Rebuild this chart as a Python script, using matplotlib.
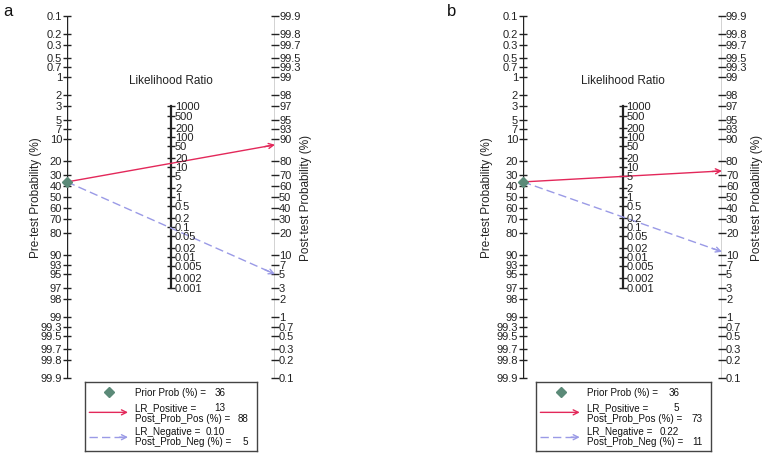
import numpy as np
import matplotlib
matplotlib.use("Agg")
import matplotlib.pyplot as plt

plt.rcParams["font.family"] = ["Liberation Sans", "DejaVu Sans"]

# data
PANELS = ["a", "b"]
PRIOR = [36, 36]
LR_POS = [13, 5]
POST_POS = [88, 73]
LR_NEG = [0.10, 0.22]
POST_NEG = [5, 11]
PROB_TICKS = [0.1, 0.2, 0.3, 0.5, 0.7, 1, 2, 3, 5, 7, 10, 20, 30, 40, 50, 60,
              70, 80, 90, 93, 95, 97, 98, 99, 99.3, 99.5, 99.7, 99.8, 99.9]
LR_TICKS = [1000, 500, 200, 100, 50, 20, 10, 5, 2, 1, 0.5, 0.2, 0.1, 0.05,
            0.02, 0.01, 0.005, 0.002, 0.001]

W, H = 767, 456
POS_COL = "#e3285a"
NEG_COL = "#9a9ae6"
DIA_COL = "#5b8a78"
AX_COL = "#222222"
LEG_FS = 7.1


def logit(p):
    return np.log(p / (1 - p))


def fmt(v):
    return f"{v:g}"


def draw_panel(fig, x_left, x_right, x_pre_lab, x_post_lab, leg_box, letter_xy,
               letter, prior, lr_pos, post_pos, lr_neg, post_neg):
    top, bot = 17, 379
    ax = fig.add_axes([x_left / W, 1 - bot / H, (x_right - x_left) / W, (bot - top) / H])
    ymax = -logit(0.001)
    ax.set_xlim(0, 1)
    ax.set_ylim(-ymax, ymax)
    ax.axis("off")

    # pre-test axis (left), 0.1 at the top
    ax.plot([0, 0], [-ymax, ymax], color=AX_COL, lw=1)
    for p in PROB_TICKS:
        y = -logit(p / 100)
        ax.plot([0], [y], marker="_", ms=6, mew=1, color=AX_COL, clip_on=False)
        ax.annotate(fmt(p), xy=(0, y), xytext=(-5, 0), textcoords="offset pixels",
                    ha="right", va="center", fontsize=8, color=AX_COL)

    # post-test axis (right), 99.9 at the top
    ax.plot([1, 1], [-ymax, ymax], color=AX_COL, lw=1)
    for p in PROB_TICKS:
        y = logit(p / 100)
        ax.plot([1], [y], marker="_", ms=6, mew=1, color=AX_COL, clip_on=False)
        ax.annotate(fmt(p), xy=(1, y), xytext=(4, 0), textcoords="offset pixels",
                    ha="left", va="center", fontsize=8, color=AX_COL)

    # likelihood ratio axis (middle)
    lr_top = np.log(max(LR_TICKS)) / 2
    lr_bot = np.log(min(LR_TICKS)) / 2
    ax.plot([0.5, 0.5], [lr_bot, lr_top], color=AX_COL, lw=1.6)
    for lr in LR_TICKS:
        y = np.log(lr) / 2
        ax.plot([0.5], [y], marker="_", ms=6, mew=1, color=AX_COL, clip_on=False)
        ax.annotate(fmt(lr), xy=(0.5, y), xytext=(4, 0), textcoords="offset pixels",
                    ha="left", va="center", fontsize=8, color=AX_COL)
    ax.annotate("Likelihood Ratio", xy=(0.5, lr_top), xytext=(0, 26),
                textcoords="offset pixels", ha="center", va="center",
                fontsize=8.5, color=AX_COL)

    # Fagan lines: pre-test on the left, post-test on the right
    y0 = -logit(prior / 100)
    for post, col, ls in [(post_pos, POS_COL, "-"), (post_neg, NEG_COL, (0, (6, 3)))]:
        y1 = logit(post / 100)
        ax.plot([0, 0.985], [y0, y0 + (y1 - y0) * 0.985], color=col, lw=1, ls=ls)
        ax.annotate("", xy=(1, y1), xytext=(0.95, y0 + (y1 - y0) * 0.95),
                    arrowprops=dict(arrowstyle="->", color=col, lw=1,
                                    mutation_scale=9, shrinkA=0, shrinkB=0))
    ax.plot([0], [y0], marker="D", ms=5, color=DIA_COL, clip_on=False, zorder=5)

    # axis titles
    fig.text(x_pre_lab / W, 1 - 198 / H, "Pre-test Probability (%)", rotation=90,
             ha="center", va="center", fontsize=8.5, color=AX_COL)
    fig.text(x_post_lab / W, 1 - 198 / H, "Post-test Probability (%)", rotation=90,
             ha="center", va="center", fontsize=8.5, color=AX_COL)
    fig.text(letter_xy[0] / W, 1 - letter_xy[1] / H, letter, ha="center",
             va="center", fontsize=12, color="#111111")

    # legend box
    lx0, ly0, lx1, ly1 = leg_box
    lg = fig.add_axes([lx0 / W, 1 - ly1 / H, (lx1 - lx0) / W, (ly1 - ly0) / H])
    lg.set_xlim(0, 1)
    lg.set_ylim(0, 1)
    lg.set_xticks([])
    lg.set_yticks([])
    for s in lg.spines.values():
        s.set_color("#444444")
        s.set_linewidth(1)
    lg.plot([0.14], [0.855], marker="D", ms=5, color=DIA_COL)
    lg.annotate("", xy=(0.25, 0.56), xytext=(0.025, 0.56),
                arrowprops=dict(arrowstyle="->", color=POS_COL, lw=1,
                                mutation_scale=9, shrinkA=0, shrinkB=0))
    lg.plot([0.025, 0.235], [0.2, 0.2], color=NEG_COL, lw=1, ls=(0, (6, 3)))
    lg.annotate("", xy=(0.25, 0.2), xytext=(0.2, 0.2),
                arrowprops=dict(arrowstyle="->", color=NEG_COL, lw=1,
                                mutation_scale=9, shrinkA=0, shrinkB=0))
    rows = [
        (0.855, "Prior Prob (%) =", f"{prior:.0f}", 0.82),
        (0.635, "LR_Positive =", f"{lr_pos:.0f}", 0.815),
        (0.485, "Post_Prob_Pos (%) =", f"{post_pos:.0f}", 0.95),
        (0.29, "LR_Negative =", f"{lr_neg:.2f}", 0.815),
        (0.14, "Post_Prob_Neg (%) =", f"{post_neg:.0f}", 0.95),
    ]
    for y, lab, val, xv in rows:
        lg.text(0.29, y, lab, ha="left", va="center", fontsize=LEG_FS, color="#111111")
        lg.text(xv, y, val, ha="right", va="center", fontsize=LEG_FS, color="#111111")


fig = plt.figure(figsize=(W / 100, H / 100), dpi=100)
fig.patch.set_facecolor("white")

draw_panel(fig, 67, 275, 36, 306, (85, 383, 257, 452), (8, 11), PANELS[0],
           PRIOR[0], LR_POS[0], POST_POS[0], LR_NEG[0], POST_NEG[0])
draw_panel(fig, 523, 722, 487, 757, (536, 383, 711, 452), (452, 11), PANELS[1],
           PRIOR[1], LR_POS[1], POST_POS[1], LR_NEG[1], POST_NEG[1])

fig.savefig("out.png", dpi=100)
